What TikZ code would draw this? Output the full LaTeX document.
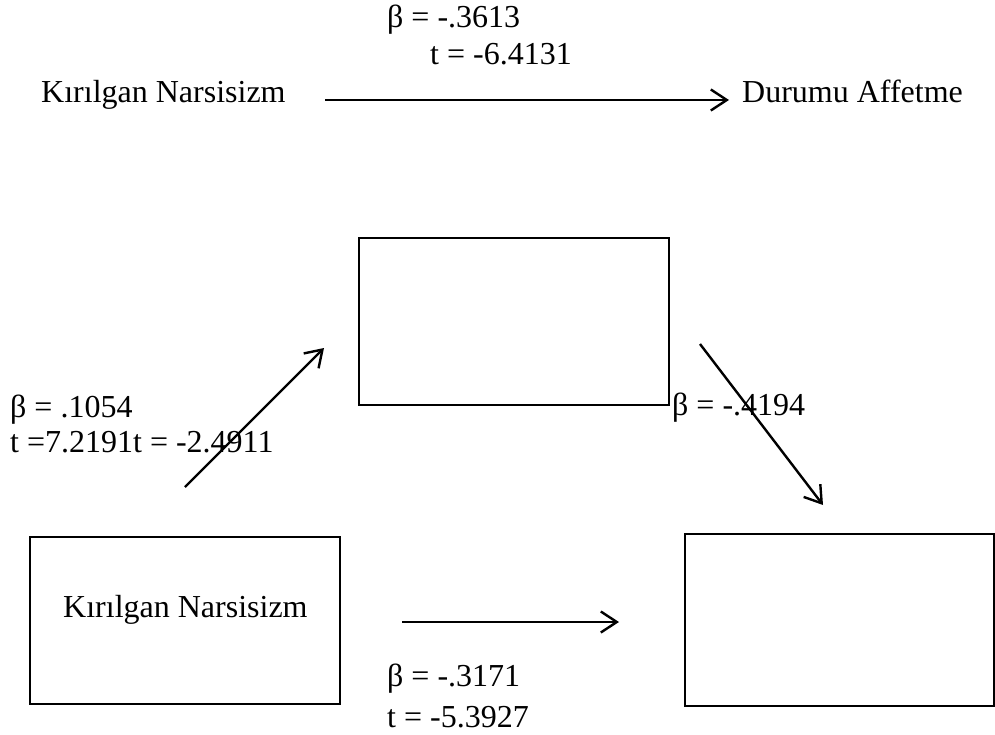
\documentclass[tikz,border=0pt]{standalone}
\usepackage{fontspec}
\setmainfont{Liberation Serif}
\usepackage{tikz}
\usetikzlibrary{arrows.meta,positioning}

\begin{document}
\begin{tikzpicture}[
  x=1pt, y=-1pt,
  box/.style={draw, line width=1.2pt, inner sep=0pt},
  arr/.style={-{Straight Barb[length=16pt,width=21pt]}, line width=2.4pt},
  lbl/.style={anchor=base west, inner sep=0pt, font=\fontsize{32}{38}\selectfont}
]
  \useasboundingbox (0,0) rectangle (995,735);

  % top: direct effect
  \node[lbl] (bTop) at (387,28)  {β = -.3613};
  \node[lbl] (tTop) at (430,65)  {t = -6.4131};
  \node[lbl] (kn1)  at (41,103)  {Kırılgan Narsisizm};
  \node[lbl] (da1)  at (742,103) {Durumu Affetme};
  \coordinate (topS) at (325,100);
  \coordinate (topE) at (729,100);
  \draw[arr] (topS) -- (topE);

  % mediation model
  \node[box, minimum width=310pt, minimum height=167pt] (med) at (514,321.5) {};
  \node[box, minimum width=310pt, minimum height=167pt] (xbox) at (185,620.5) {};
  \node[box, minimum width=309pt, minimum height=172pt] (ybox) at (839.5,620) {};
  \node[lbl] (kn2) at (63,617) {Kırılgan Narsisizm};

  \coordinate (aS) at (185,487);
  \coordinate (aE) at (324,348);
  \coordinate (bS) at (700,344);
  \coordinate (bE) at (823,505);
  \coordinate (cS) at (402,622);
  \coordinate (cE) at (619,622);
  \draw[arr] (aS) -- (aE);
  \draw[arr] (bS) -- (bE);
  \draw[arr] (cS) -- (cE);

  \node[lbl] (bA) at (10,417)  {β = .1054};
  \node[lbl] (tA) at (10,452)  {t =7.2191t = -2.4911};
  \node[lbl] (bB) at (672,415) {β = -.4194};
  \node[lbl] (bC) at (387,686) {β = -.3171};
  \node[lbl] (tC) at (387,727) {t = -5.3927};
\end{tikzpicture}
\end{document}
